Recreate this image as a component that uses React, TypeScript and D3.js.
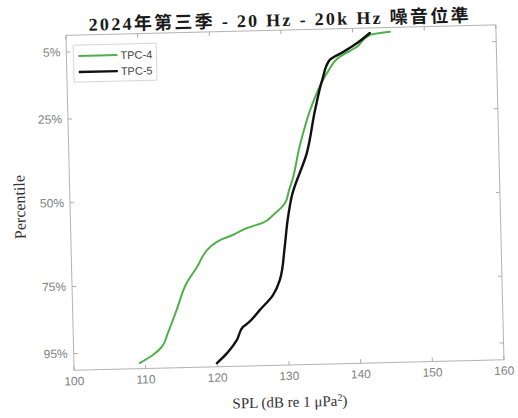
import React from "react";
import * as d3 from "d3";

const W = 518;
const H = 418;

const titleText = "2024年第三季 - 20 Hz - 20k Hz 噪音位準";
const xLabel = "SPL (dB re 1 μPa";
const yLabel = "Percentile";

const xTicks = [100, 110, 120, 130, 140, 150, 160];
const yTicks = [5, 25, 50, 75, 95];
const yTickLabels = ["5%", "25%", "50%", "75%", "95%"];

const seriesNames = ["TPC-4", "TPC-5"];

// TPC-4 (green): percentile vs SPL
const tpc4Pct = [1.3, 2.1, 5.6, 8.4, 13.1, 22.0, 35.0, 44.8, 47.8, 51.6, 55.1, 57.4, 58.8, 60.8, 62.2, 64.2, 70.1, 74.8, 82.8, 89.6, 93.7, 96.0, 98.3];
const tpc4Spl = [145.2, 142.4, 140.5, 138.1, 136.3, 134.2, 132.2, 131.1, 130.6, 130.0, 128.3, 126.8, 124.6, 122.6, 120.8, 119.4, 117.5, 116.0, 114.5, 113.2, 112.3, 111.05, 109.2];

// TPC-5 (black)
const tpc5Pct = [1.5, 4.4, 7.0, 9.3, 15.2, 24.1, 36.9, 49.3, 56.7, 64.7, 74.6, 79.0, 83.4, 87.2, 88.3, 92.2, 96.0, 98.9];
const tpc5Spl = [142.4, 140.6, 138.6, 136.7, 135.6, 134.5, 133.2, 131.0, 130.3, 129.8, 129.0, 128.0, 126.1, 124.4, 123.7, 122.8, 121.4, 119.95];

const colors = ["#4fb04a", "#111111"];
const widths = [2, 2.4];

export default function App() {
  const left = 70, right = 500, top = 30, bottom = 365;
  const x = d3.scaleLinear().domain([100, 160]).range([left, right]);
  const y = d3.scaleLinear().domain([0, 100]).range([top, bottom]);

  const line = d3
    .line<[number, number]>()
    .x((d) => x(d[0]))
    .y((d) => y(d[1]))
    .curve(d3.curveMonotoneY);

  const series = [
    tpc4Spl.map((v, i) => [v, tpc4Pct[i]] as [number, number]),
    tpc5Spl.map((v, i) => [v, tpc5Pct[i]] as [number, number]),
  ];

  const axisColor = "#aaaaaa";
  const tickColor = "#808080";
  const sans = "'Liberation Sans', Arial, sans-serif";
  const serif = "'Liberation Serif', 'Times New Roman', 'Noto Sans CJK TC', serif";

  return (
    <svg
      width={W}
      height={H}
      style={{ position: "absolute", left: 0, top: 0, background: "#fff" }}
    >
      <rect x={0} y={0} width={W} height={H} fill="#fff" />
      <g transform="rotate(-1.4 288 200)">
        <rect x={left} y={top} width={right - left} height={bottom - top} fill="none" stroke={axisColor} strokeWidth={0.9} />
        {xTicks.map((t) => (
          <g key={"x" + t}>
            <line x1={x(t)} x2={x(t)} y1={bottom} y2={bottom - 4} stroke={axisColor} />
            <line x1={x(t)} x2={x(t)} y1={top} y2={top + 4} stroke={axisColor} />
            <text x={x(t)} y={380} textAnchor="middle" fontFamily={sans} fontSize={12} fill={tickColor}>
              {t}
            </text>
          </g>
        ))}
        {yTicks.map((t, i) => (
          <g key={"y" + t}>
            <line x1={left} x2={left + 4} y1={y(t)} y2={y(t)} stroke={axisColor} />
            <line x1={right} x2={right - 4} y1={y(t)} y2={y(t)} stroke={axisColor} />
            <text x={left - 6} y={y(t) + 4} textAnchor="end" fontFamily={sans} fontSize={12} fill={tickColor}>
              {yTickLabels[i]}
            </text>
          </g>
        ))}
        {series.map((s, i) => (
          <path key={i} d={line(s) || ""} fill="none" stroke={colors[i]} strokeWidth={widths[i]} strokeLinejoin="round" strokeLinecap="round" />
        ))}
        <rect x={77} y={40} width={83} height={37} fill="#fff" stroke="#cccccc" strokeWidth={0.8} />
        {seriesNames.map((n, i) => (
          <g key={n}>
            <line x1={82} x2={121} y1={51 + i * 16} y2={51 + i * 16} stroke={colors[i]} strokeWidth={widths[i]} />
            <text x={124} y={55 + i * 16} fontFamily={sans} fontSize={11} fill="#444">
              {n}
            </text>
          </g>
        ))}
        <text
          x={283}
          y={26}
          textAnchor="middle"
          fontFamily={serif}
          fontSize={18}
          fontWeight={600}
          fill="#1a1a1a"
          textLength={380}
          lengthAdjust="spacing"
        >
          {titleText}
        </text>
        <text x={(left + right) / 2} y={407} textAnchor="middle" fontFamily={serif} fontSize={15} fill="#333">
          {xLabel}
          <tspan baselineShift="super" fontSize={10}>2</tspan>
          <tspan>)</tspan>
        </text>
        <text
          transform={`translate(25 ${(top + bottom) / 2 + 3}) rotate(-90)`}
          textAnchor="middle"
          fontFamily={serif}
          fontSize={16}
          fill="#333"
        >
          {yLabel}
        </text>
      </g>
    </svg>
  );
}
